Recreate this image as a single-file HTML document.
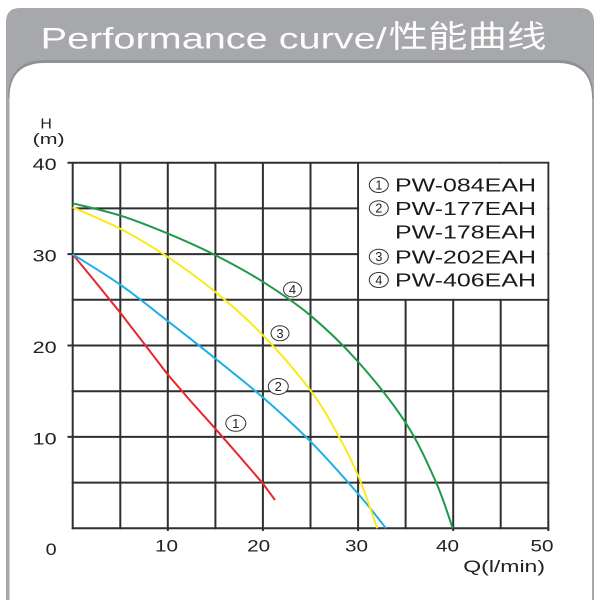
<!DOCTYPE html>
<html>
<head>
<meta charset="utf-8">
<style>
html,body{margin:0;padding:0;background:#fff;}
svg{display:block;}
text{font-family:"Liberation Sans","Noto Sans CJK SC",sans-serif;}
</style>
</head>
<body>
<svg width="600" height="600" viewBox="0 0 600 600" xmlns="http://www.w3.org/2000/svg">
  <rect x="0" y="0" width="600" height="600" fill="#ffffff"/>
  <!-- gray frame -->
  <path d="M6,600 L6,22 Q6,8 20,8 L580,8 Q594,8 594,22 L594,600 Z" fill="#a7a8ab"/>
  <!-- shadow of inner panel -->
  <path d="M9.5,98 Q9.5,61.5 45,61.5 L557,61.5 Q592,61.5 592,98" fill="none" stroke="#8f9093" stroke-width="3"/>
  <!-- white inner panel -->
  <path d="M9.5,600 L9.5,98 Q9.5,63 45,63 L557,63 Q592,63 592,98 L592,600 Z" fill="#ffffff"/>
  <!-- title -->
  <text x="40.7" y="48.3" font-size="30" fill="#fdfdfd" textLength="346" lengthAdjust="spacingAndGlyphs">Performance curve/</text>
  <text x="388.5" y="47.5" font-size="31" fill="#fdfdfd" textLength="158" lengthAdjust="spacingAndGlyphs" style="font-family:'Noto Sans CJK SC',sans-serif">性能曲线</text>

  <!-- axis unit labels -->
  <text x="46.2" y="128.5" font-size="15" fill="#222" text-anchor="middle" textLength="11.5" lengthAdjust="spacingAndGlyphs">H</text>
  <text x="32.7" y="144" font-size="14.5" fill="#222" textLength="32" lengthAdjust="spacingAndGlyphs">(m)</text>

  <!-- grid -->
  <g stroke="#2f2f2f" stroke-width="2" fill="none">
    <line x1="72.7" y1="162.7" x2="72.7" y2="529.3"/>
    <line x1="120.3" y1="162.7" x2="120.3" y2="529.3"/>
    <line x1="167.8" y1="162.7" x2="167.8" y2="531"/>
    <line x1="215.4" y1="162.7" x2="215.4" y2="529.3"/>
    <line x1="262.9" y1="162.7" x2="262.9" y2="531"/>
    <line x1="310.5" y1="162.7" x2="310.5" y2="529.3"/>
    <line x1="358.1" y1="162.7" x2="358.1" y2="531"/>
    <line x1="405.6" y1="162.7" x2="405.6" y2="529.3"/>
    <line x1="453.2" y1="162.7" x2="453.2" y2="531"/>
    <line x1="500.7" y1="162.7" x2="500.7" y2="529.3"/>
    <line x1="548.3" y1="162.7" x2="548.3" y2="531"/>
    <line x1="67.5" y1="162.7" x2="549.3" y2="162.7"/>
    <line x1="71.7" y1="208.4" x2="549.3" y2="208.4"/>
    <line x1="67.5" y1="254.1" x2="549.3" y2="254.1"/>
    <line x1="71.7" y1="299.8" x2="549.3" y2="299.8"/>
    <line x1="67.5" y1="345.5" x2="549.3" y2="345.5"/>
    <line x1="71.7" y1="391.2" x2="549.3" y2="391.2"/>
    <line x1="67.5" y1="436.9" x2="549.3" y2="436.9"/>
    <line x1="71.7" y1="482.6" x2="549.3" y2="482.6"/>
    <line x1="71.7" y1="528.3" x2="549.3" y2="528.3"/>
  </g>

  <!-- legend box (white over grid) -->
  <rect x="359.1" y="163.7" width="188.2" height="135.1" fill="#ffffff"/>

  <!-- curves -->
  <g fill="none" stroke-width="2" stroke-linejoin="round" stroke-linecap="butt">
    <polyline stroke="#e8262c" points="72.7,254.3 96.7,283.5 120.7,313.3 144,343.5 167.3,374 191,401.5 215,428.3 239,455.8 262.7,483.3 275,500"/>
    <path stroke="#1cb0e6" d="M72.7,254.3 C80.7,259.4 104.9,273.9 120.7,285 C136.5,296.1 151.6,308.5 167.3,320.7 C183.0,332.9 199.1,345.5 215,358.3 C230.9,371.1 246.75,383.4 262.7,397.3 C278.65,411.2 294.8,425.6 310.7,441.7 C326.6,457.8 345.75,479.6 358.3,494 C370.85,508.4 381.4,522.6 386,528.3"/>
    <path stroke="#fbea1a" d="M72.7,207.3 C80.7,210.9 104.9,220.8 120.7,229 C136.5,237.2 151.6,246.25 167.3,256.7 C183.0,267.15 199.1,278.65 215,291.7 C230.9,304.75 246.75,318.5 262.7,335 C278.65,351.5 297.98,373.75 310.7,390.7 C323.42,407.65 331.07,422.48 339,436.7 C346.93,450.92 351.92,460.73 358.3,476 C364.68,491.27 374.1,519.6 377.3,528.3"/>
    <path stroke="#1f9a4c" d="M72.7,203.3 C80.7,205.4 104.9,210.7 120.7,215.7 C136.5,220.7 151.6,226.75 167.3,233.3 C183.0,239.85 199.1,246.9 215,255 C230.9,263.1 246.75,271.6 262.7,281.7 C278.65,291.8 294.8,302.3 310.7,315.7 C326.6,329.1 342.4,344.1 358.3,362 C374.2,379.9 393.08,403.35 406,423.3 C418.92,443.25 428.02,464.2 435.8,481.7 C443.58,499.2 449.88,520.5 452.7,528.3"/>
  </g>

  <!-- curve markers -->
  <g fill="#ffffff" stroke="#333" stroke-width="1">
    <ellipse cx="292.5" cy="289.5" rx="9" ry="7.5"/>
    <ellipse cx="280" cy="333.3" rx="9" ry="7.5"/>
    <ellipse cx="278.3" cy="386.5" rx="10" ry="8"/>
    <ellipse cx="235.8" cy="423.3" rx="10" ry="8"/>
  </g>
  <g font-size="13" fill="#222" text-anchor="middle">
    <text x="292.5" y="294.1">4</text>
    <text x="280" y="337.9">3</text>
    <text x="278.3" y="391.1">2</text>
    <text x="235.8" y="427.9">1</text>
  </g>

  <!-- legend -->
  <g fill="none" stroke="#333" stroke-width="1">
    <ellipse cx="378.8" cy="185" rx="9.5" ry="7.5"/>
    <ellipse cx="378.8" cy="208.3" rx="9.5" ry="7.5"/>
    <ellipse cx="378.8" cy="256.7" rx="9.5" ry="7.5"/>
    <ellipse cx="378.8" cy="280" rx="9.5" ry="7.5"/>
  </g>
  <g font-size="12.5" fill="#222" text-anchor="middle">
    <text x="378.8" y="189.4">1</text>
    <text x="378.8" y="212.7">2</text>
    <text x="378.8" y="261.1">3</text>
    <text x="378.8" y="284.4">4</text>
  </g>
  <g font-size="18.5" fill="#1a1a1a">
    <text x="395" y="191.7" textLength="141" lengthAdjust="spacingAndGlyphs">PW-084EAH</text>
    <text x="395" y="215" textLength="141" lengthAdjust="spacingAndGlyphs">PW-177EAH</text>
    <text x="395" y="238.4" textLength="141" lengthAdjust="spacingAndGlyphs">PW-178EAH</text>
    <text x="395" y="263.4" textLength="141" lengthAdjust="spacingAndGlyphs">PW-202EAH</text>
    <text x="395" y="286.7" textLength="141" lengthAdjust="spacingAndGlyphs">PW-406EAH</text>
  </g>

  <!-- y tick labels -->
  <g font-size="16.5" fill="#222">
    <text x="32.7" y="170" textLength="24" lengthAdjust="spacingAndGlyphs">40</text>
    <text x="32.7" y="261.5" textLength="24" lengthAdjust="spacingAndGlyphs">30</text>
    <text x="32.7" y="352.9" textLength="24" lengthAdjust="spacingAndGlyphs">20</text>
    <text x="32.7" y="444.3" textLength="24" lengthAdjust="spacingAndGlyphs">10</text>
    <text x="45.7" y="555" textLength="11" lengthAdjust="spacingAndGlyphs">0</text>
  </g>
  <!-- x tick labels -->
  <g font-size="16.5" fill="#222">
    <text x="155" y="551.7" textLength="23" lengthAdjust="spacingAndGlyphs">10</text>
    <text x="247.2" y="551.7" textLength="23" lengthAdjust="spacingAndGlyphs">20</text>
    <text x="345" y="551.7" textLength="23" lengthAdjust="spacingAndGlyphs">30</text>
    <text x="436" y="551.7" textLength="23" lengthAdjust="spacingAndGlyphs">40</text>
    <text x="530.5" y="551.7" textLength="23" lengthAdjust="spacingAndGlyphs">50</text>
    <text x="463.3" y="572" textLength="81.7" lengthAdjust="spacingAndGlyphs">Q(l/min)</text>
  </g>
</svg>
</body>
</html>
